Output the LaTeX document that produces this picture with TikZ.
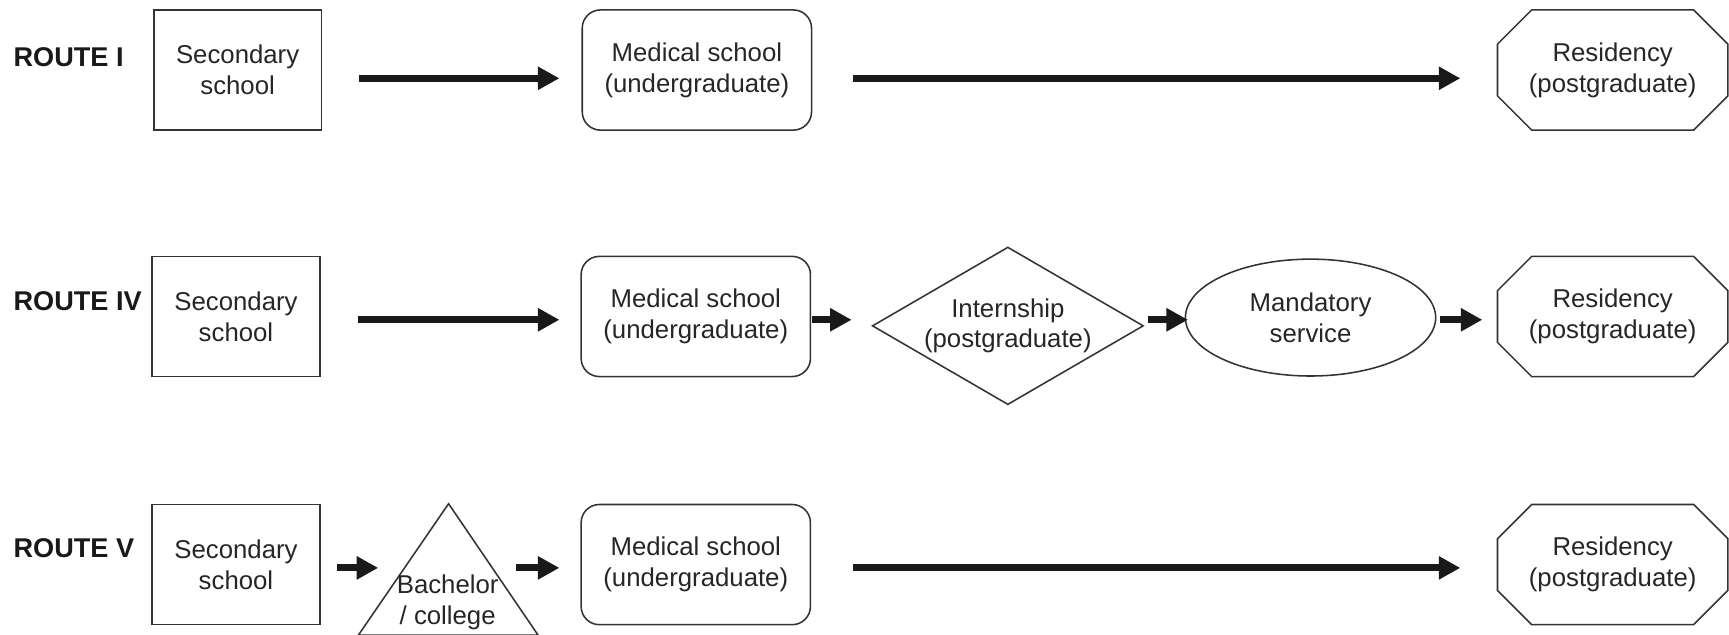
\documentclass[tikz,border=0pt]{standalone}
\usepackage{fontspec}
\setmainfont{Liberation Sans}
\usetikzlibrary{arrows.meta,shapes.geometric,shapes.misc}

\tikzset{
  base/.style={draw=black!80, line width=0.8pt, align=center, text=black!85,
    font=\fontsize{13.3}{15.9}\selectfont},
  school/.style={base, rectangle, minimum width=3.04cm, minimum height=2.18cm},
  medbox/.style={base, rectangle, rounded corners=0.33cm, minimum width=4.16cm, minimum height=2.18cm},
  resbox/.style={base, chamfered rectangle, chamfered rectangle angle=45,
    chamfered rectangle xsep=0.64cm, inner sep=0pt, minimum width=4.18cm, minimum height=2.18cm},
  internbox/.style={base, diamond, shape aspect=1.72, inner sep=0pt, minimum width=4.92cm, minimum height=2.86cm},
  servicebox/.style={base, ellipse, inner sep=0pt, minimum width=4.54cm, minimum height=2.12cm},
  routelabel/.style={anchor=west, inner sep=0pt, text=black!90,
    font=\fontsize{14}{16}\selectfont\bfseries},
  arr/.style={draw=black!90, line width=3.7pt, -{Triangle[length=0.39cm,width=0.40cm]}},
}

\begin{document}
\begin{tikzpicture}[x=0.02cm, y=-0.02cm]
\useasboundingbox (0,0) rectangle (1568,575);

% row heights of the arrows
\coordinate (r1) at (0,71);
\coordinate (r4) at (0,290);
\coordinate (r5) at (0,515);

% ---- Route I
\node[routelabel] (lab1) at (12,52) {ROUTE I};
\node[school] (sec1) at (215.5,63.5) {Secondary\\school};
\node[medbox] (med1) at (632,63.5) {Medical school\\(undergraduate)};
\node[resbox] (res1) at (1462.5,63.5) {Residency\\(postgraduate)};

\draw[arr, shorten <=0.66cm, shorten >=0.40cm] (sec1.east |- r1) -- (med1.west |- r1);
\draw[arr, shorten <=0.74cm, shorten >=0.66cm] (med1.east |- r1) -- (res1.west |- r1);

% ---- Route IV
\node[routelabel] (lab4) at (12,273) {ROUTE IV};
\node[school] (sec4) at (214,287) {Secondary\\school};
\node[medbox] (med4) at (631,287) {Medical school\\(undergraduate)};
\node[internbox] (intern) at (914,295.5) {Internship\\(postgraduate)};
\node[servicebox] (mand) at (1188.5,288) {Mandatory\\service};
\node[resbox] (res4) at (1462.5,287) {Residency\\(postgraduate)};

\draw[arr, shorten <=0.68cm, shorten >=0.38cm] (sec4.east |- r4) -- (med4.west |- r4);
\draw[arr, shorten <=0.02cm, shorten >=0.36cm] (med4.east |- r4) -- (intern.west |- r4);
\draw[arr, shorten <=0.06cm, shorten >=-0.06cm] (intern.east |- r4) -- (mand.west |- r4);
\draw[arr, shorten <=0.06cm, shorten >=0.26cm] (mand.east |- r4) -- (res4.west |- r4);

% ---- Route V
\node[routelabel] (lab5) at (12,497) {ROUTE V};
\node[school] (sec5) at (214,512) {Secondary\\school};

% bachelor triangle, its base on the lower edge
\coordinate (tri-a) at (406.8,456.8);
\coordinate (tri-l) at (325,576);
\coordinate (tri-r) at (488,576);
\draw[draw=black!80, line width=0.8pt] (tri-a) -- (tri-l) -- (tri-r) -- cycle;
\node[base, draw=none, inner sep=0pt] (bach) at (406,546.5) {Bachelor\\/ college};
\coordinate (bachL) at (366.5,515);
\coordinate (bachR) at (446.8,515);

\node[medbox] (med5) at (631,512) {Medical school\\(undergraduate)};
\node[resbox] (res5) at (1462.5,512) {Residency\\(postgraduate)};

\draw[arr, shorten <=0.30cm, shorten >=0.47cm] (sec5.east |- r5) -- (bachL);
\draw[arr, shorten <=0.42cm, shorten >=0.38cm] (bachR) -- (med5.west |- r5);
\draw[arr, shorten <=0.76cm, shorten >=0.66cm] (med5.east |- r5) -- (res5.west |- r5);
\end{tikzpicture}
\end{document}
